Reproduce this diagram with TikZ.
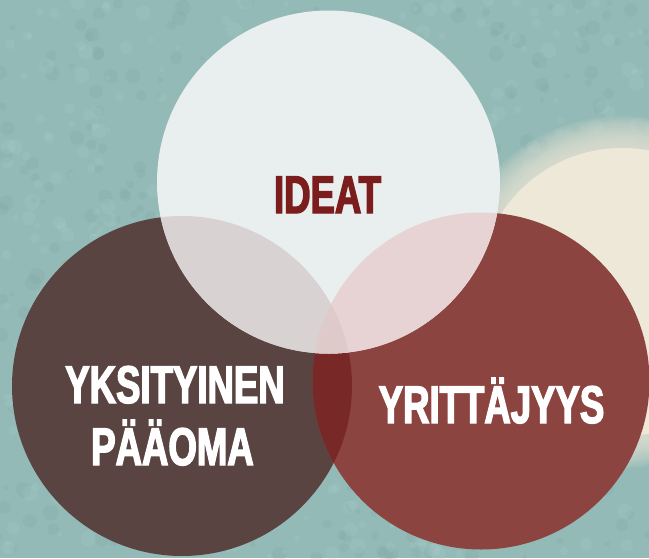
\documentclass[tikz,border=0pt]{standalone}
\usepackage{fontspec}
\newfontfamily\headfont[FakeStretch=0.69,FakeBold=2.6]{Liberation Sans Bold}
\definecolor{teal}{HTML}{93BAB7}
\definecolor{tealdark}{HTML}{789F9C}
\definecolor{teallight}{HTML}{ADD0CC}
\definecolor{cream}{HTML}{EEE8D8}
\definecolor{topc}{HTML}{E9EFEE}
\definecolor{leftc}{HTML}{594442}
\definecolor{rightc}{HTML}{8C4440}
\definecolor{lr}{HTML}{782826}
\definecolor{tl}{HTML}{D8D2D2}
\definecolor{tr}{HTML}{E7D3D3}
\definecolor{tlr}{HTML}{DFCACA}
\definecolor{ideared}{HTML}{7B1D1D}
\begin{document}
\begin{tikzpicture}[x=1pt,y=-1pt,
  lab/.style={font=\headfont\fontsize{53}{53}\selectfont, inner sep=0pt, anchor=base},
  ]
\useasboundingbox (0,0) rectangle (649,558);
% background
\fill[teal] (0,0) rectangle (649,558);
\pgfmathsetseed{7}
\foreach \i in {1,...,500}{
  \pgfmathsetmacro{\px}{rnd*649}
  \pgfmathsetmacro{\py}{rnd*558}
  \pgfmathsetmacro{\pr}{2+rnd*6}
  \fill[tealdark,opacity=0.18] (\px,\py) circle (\pr);
}
\foreach \i in {1,...,500}{
  \pgfmathsetmacro{\px}{rnd*649}
  \pgfmathsetmacro{\py}{rnd*558}
  \pgfmathsetmacro{\pr}{2+rnd*6}
  \fill[teallight,opacity=0.22] (\px,\py) circle (\pr);
}
% cloud
\foreach \r in {176,174,...,146}{
  \fill[cream,opacity=0.09] (622,292) circle (\r);
}
\fill[cream] (622,292) circle (144);
% circles
\fill[leftc] (182,386) circle (170);
\fill[rightc] (481,381) circle (168.5);
\begin{scope}
  \clip (182,386) circle (170);
  \fill[lr] (481,381) circle (168.5);
\end{scope}
\fill[topc] (328.5,182) circle (171.5);
\begin{scope}
  \clip (328.5,182) circle (171.5);
  \fill[tl] (182,386) circle (170);
  \fill[tr] (481,381) circle (168.5);
  \clip (182,386) circle (170);
  \fill[tlr] (481,381) circle (168.5);
\end{scope}
% labels
\node[lab, text=ideared] (ideat) at (327.5,213) {IDEAT};
\node[lab, text=white] (yks) at (175,403) {YKSITYINEN};
\node[lab, text=white] (paa) at (172.5,465) {PÄÄOMA};
\node[lab, text=white] (yrit) at (491.5,423) {YRITTÄJYYS};
\end{tikzpicture}
\end{document}
